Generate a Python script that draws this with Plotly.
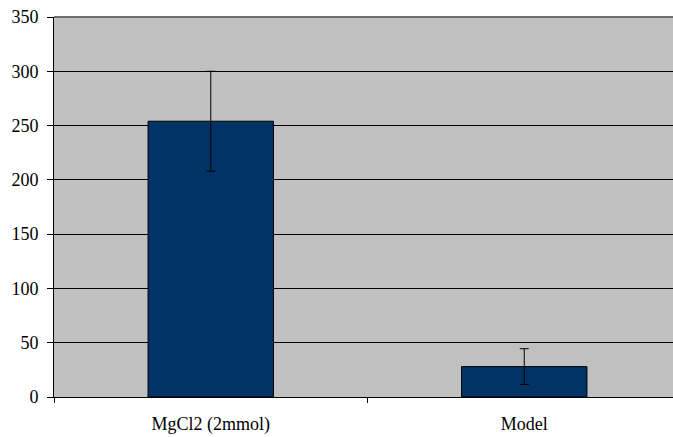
import plotly.graph_objects as go

categories = ["MgCl2 (2mmol)", "Model"]
values = [254, 28]
errors = [46, 16.5]
y_ticks = [0, 50, 100, 150, 200, 250, 300, 350]

fig = go.Figure()
fig.add_trace(go.Bar(
    x=categories,
    y=values,
    width=0.4,
    marker=dict(color="#003366", line=dict(color="#000000", width=1)),
    error_y=dict(type="data", array=errors, visible=True, color="#000000",
                 thickness=1, width=4.5),
))

fig.update_layout(
    width=681, height=437,
    margin=dict(l=54, r=0, t=17, b=40),
    plot_bgcolor="#C0C0C0",
    paper_bgcolor="#FFFFFF",
    showlegend=False,
    font=dict(family="Liberation Serif", size=18, color="#000000"),
    bargap=0.6,
)
fig.add_shape(type="line", xref="paper", yref="paper", x0=0, x1=1, y0=1, y1=1,
              line=dict(color="#6E6E6E", width=2))
fig.update_xaxes(
    range=[-0.5, 1.5],
    showline=True, linecolor="#000000", linewidth=1,
    ticks="outside", tickson="boundaries", ticklen=5, tickcolor="#000000",
    showgrid=False,
    ticklabelstandoff=10,
)
fig.update_yaxes(
    range=[0, 350],
    tickvals=y_ticks,
    showline=True, linecolor="#000000", linewidth=1,
    ticks="outside", ticklen=6, tickcolor="#000000",
    showgrid=True, gridcolor="#000000", gridwidth=1,
    zeroline=False,
    ticklabelstandoff=5,
)

fig.write_html(
    "out.html",
    config={"responsive": False, "displayModeBar": False, "staticPlot": True},
    post_script=("document.body.style.margin='0';document.body.style.padding='0';"
                 "document.body.style.overflow='hidden';"
                 "document.documentElement.style.overflow='hidden';"),
)
